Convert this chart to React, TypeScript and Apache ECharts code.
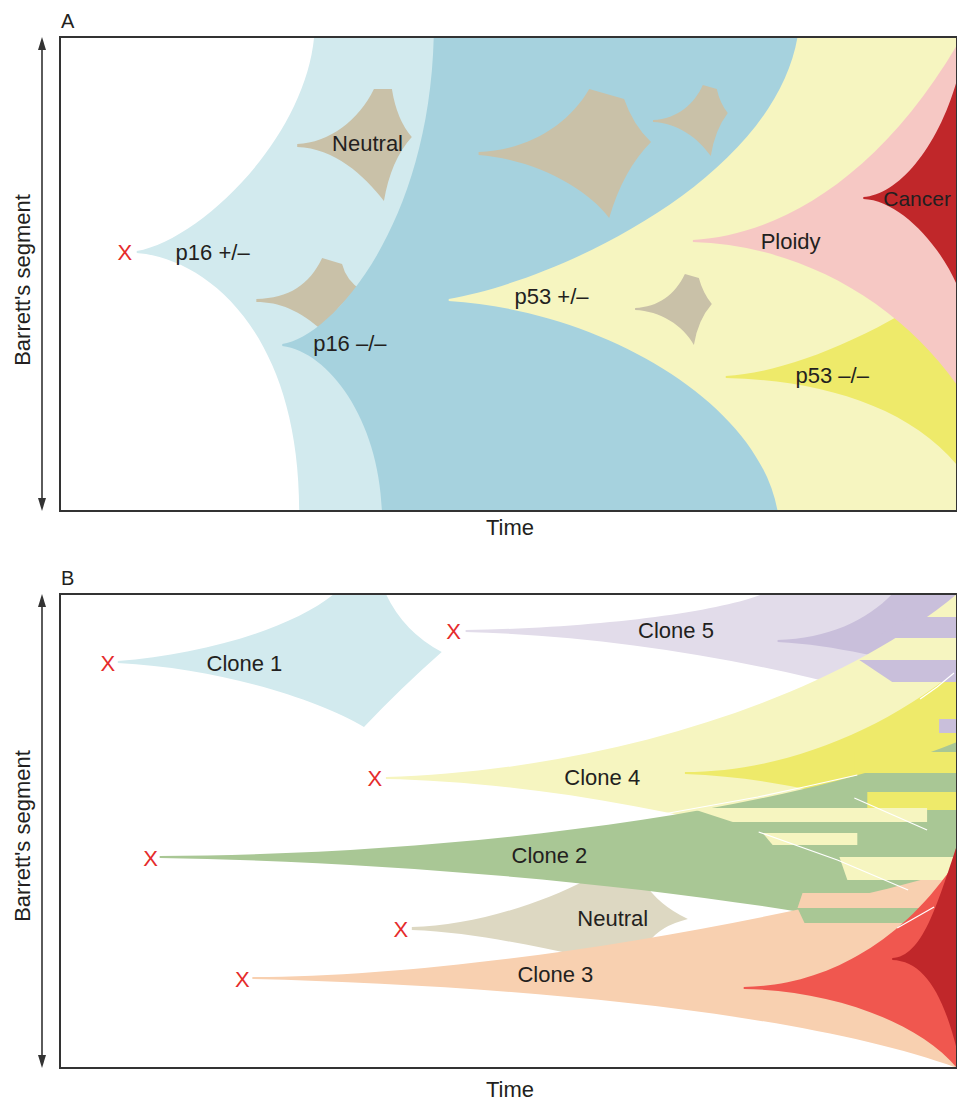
import { useEffect, useRef } from "react";
import * as echarts from "echarts";

const FONT = '"Liberation Sans", Arial, Helvetica, sans-serif';

// ---------------- colours ----------------
const C = {
  lightBlue: "#d2eaee",
  darkBlue: "#a6d2de",
  tanA: "#c9c1a8",
  paleYellow: "#f6f5c0",
  brightYellow: "#eeea6a",
  pink: "#f6c8c4",
  darkRed: "#c0272a",
  lavLight: "#e2dcea",
  lavDark: "#c9bfdb",
  green: "#a9c795",
  tanB: "#ddd8c2",
  peach: "#f8d0b0",
  red: "#f0574f",
  xRed: "#e52b2b",
  text: "#231f20",
  frame: "#333333",
};

// ---------------- Panel A: clone outlines (x = time, y = position in segment) ----------------
const aP16Het = [["M", 137, 251], ["C", 200, 240, 305, 140, 315, 37], ["L", 960, 37], ["L", 960, 511], ["L", 300, 511], ["C", 300, 330, 205, 258, 137, 253], ["Z"]];
const aNeutral1 = [["M", 298, 144], ["C", 330, 143, 360, 120, 375, 89], ["L", 393, 89], ["Q", 398, 120, 413, 137], ["Q", 392, 160, 385, 201], ["C", 365, 175, 335, 148, 298, 147], ["Z"]];
const aNeutral2 = [["M", 257, 299], ["C", 290, 298, 310, 285, 323, 258], ["L", 343, 264], ["Q", 347, 280, 362, 290], ["Q", 335, 305, 325, 332], ["C", 300, 310, 280, 302, 257, 302], ["Z"]];
const aP16Null = [["M", 283, 344], ["C", 330, 338, 430, 230, 435, 37], ["L", 960, 37], ["L", 960, 511], ["L", 383, 511], ["C", 380, 420, 330, 352, 283, 346], ["Z"]];
const aNeutral3 = [["M", 480, 152], ["C", 530, 150, 570, 125, 591, 89], ["L", 626, 99], ["Q", 635, 125, 653, 142], ["Q", 625, 170, 611, 218], ["C", 590, 190, 540, 160, 480, 155], ["Z"]];
const aNeutral4 = [["M", 655, 120], ["C", 680, 119, 697, 103, 705, 85], ["L", 719, 89], ["Q", 722, 103, 730, 113], ["Q", 717, 130, 713, 156], ["C", 700, 138, 680, 123, 655, 122], ["Z"]];
const aP53Het = [["M", 450, 299], ["C", 560, 280, 775, 180, 800, 37], ["L", 960, 37], ["L", 960, 511], ["L", 780, 511], ["C", 760, 400, 600, 310, 450, 301], ["Z"]];
const aNeutral5 = [["M", 637, 308], ["C", 660, 307, 677, 295, 687, 274], ["L", 701, 278], ["Q", 705, 293, 714, 304], ["Q", 700, 320, 696, 345], ["C", 685, 325, 662, 311, 637, 310], ["Z"]];
const aP53Null = [["M", 728, 376], ["C", 790, 372, 870, 340, 960, 280], ["L", 960, 465], ["C", 910, 405, 820, 380, 728, 378], ["Z"]];
const aPloidy = [["M", 695, 240], ["C", 780, 235, 880, 180, 960, 45], ["L", 960, 385], ["C", 900, 300, 800, 245, 695, 242], ["Z"]];
const aCancer = [["M", 866, 197], ["C", 900, 195, 940, 150, 960, 80], ["L", 960, 285], ["C", 940, 240, 900, 200, 866, 199], ["Z"]];

// [text, x, y, fontSize]
const aLabels = [
  ["p16 +/\u2013", 176, 252, 22],
  ["Neutral", 333, 143, 22],
  ["p16 \u2013/\u2013", 314, 343, 22],
  ["p53 +/\u2013", 516, 296, 22],
  ["Ploidy", 763, 241, 22],
  ["p53 \u2013/\u2013", 798, 375, 22],
  ["Cancer", 886, 198, 21],
];
const aMarks = [[125, 252]];

// ---------------- Panel B ----------------
const bClone1 = [["M", 118, 661], ["C", 200, 655, 290, 630, 335, 594], ["L", 387, 594], ["Q", 405, 632, 443, 652], ["Q", 402, 688, 365, 727], ["C", 320, 700, 220, 668, 118, 663], ["Z"]];
const bClone5 = [["M", 467, 630], ["C", 600, 628, 720, 612, 765, 594], ["L", 960, 594], ["L", 960, 720], ["C", 800, 665, 620, 636, 467, 632], ["Z"]];
const bClone5Sub = [["M", 780, 640], ["C", 830, 639, 870, 620, 895, 594], ["L", 960, 594], ["L", 960, 672], ["C", 890, 660, 840, 645, 780, 642], ["Z"]];
const bClone4 = [["M", 387, 777], ["C", 580, 772, 820, 710, 960, 594], ["L", 960, 910], ["C", 800, 825, 550, 782, 387, 779], ["Z"]];
const bClone4Sub = [["M", 687, 772], ["C", 780, 772, 880, 735, 960, 670], ["L", 960, 845], ["C", 900, 810, 800, 778, 687, 774], ["Z"]];
const bNeutral = [["M", 413, 927], ["C", 470, 926, 540, 905, 588, 880], ["L", 645, 881], ["Q", 660, 905, 690, 919], ["Q", 662, 926, 651, 942], ["L", 578, 955], ["C", 530, 945, 470, 932, 413, 930], ["Z"]];
const bClone2 = [["M", 160, 856], ["C", 450, 855, 780, 815, 960, 742], ["L", 960, 945], ["C", 800, 900, 450, 862, 160, 858], ["Z"]];
const bClone3 = [["M", 253, 977], ["C", 450, 977, 750, 930, 960, 870], ["L", 960, 1068], ["C", 800, 1010, 500, 985, 253, 979], ["Z"]];
const bRed = [["M", 746, 987], ["C", 820, 986, 900, 950, 960, 860], ["L", 960, 1068], ["C", 920, 1020, 830, 990, 746, 989], ["Z"]];
const bDarkRed = [["M", 895, 958], ["C", 925, 957, 940, 905, 960, 845], ["L", 960, 1050], ["C", 945, 990, 925, 961, 895, 960], ["Z"]];

// stripes where clones overlap: [yTop, yBottom, xLeftTop, xLeftBottom, xRight]
const lavStripes = [[617, 638, 911, 878, 960], [660, 682, 862, 895, 960], [719, 733, 942, 942, 960]];
const brightStripes = [[752, 773, 857, 857, 960], [792, 810, 870, 870, 960]];
const paleStripes = [[808, 822, 692, 735, 930], [833, 845, 765, 775, 860], [857, 880, 842, 850, 960]];
const peachStripes = [[893, 908, 805, 800, 945]];
const greenStripes = [[908, 923, 800, 807, 935]];

// thin white clone borders
const whiteLines = [
  [[660, 815], [760, 797], [811, 786], [860, 775]],
  [[923, 699], [940, 687], [957, 673]],
  [[761, 832], [840, 860], [911, 890]],
  [[857, 798], [930, 830]],
  [[900, 928], [937, 907]],
];

const bLabels = [
  ["Clone 1", 207, 663, 22],
  ["Clone 5", 640, 630, 22],
  ["Clone 4", 566, 777, 22],
  ["Clone 2", 513, 855, 22],
  ["Neutral", 579, 918, 22],
  ["Clone 3", 519, 974, 22],
];
const bMarks = [[108, 663], [455, 631], [376, 778], [151, 858], [402, 929], [243, 979]];

// ---------------- helpers ----------------
type Shape = { path: any[]; fill?: string; stroke?: string; lineWidth?: number };

function stripeShapes(list: number[][], fill: string): Shape[] {
  return list.map(([y0, y1, xl0, xl1, xr]) => ({
    path: [["M", xl0, y0], ["L", xr, y0], ["L", xr, y1], ["L", xl1, y1], ["Z"]],
    fill,
  }));
}

function lineShapes(list: number[][][]): Shape[] {
  return list.map((pts) => ({
    path: pts.map((p, i) => [i === 0 ? "M" : "L", p[0], p[1]]),
    fill: "none",
    stroke: "#ffffff",
    lineWidth: 1.2,
  }));
}

function shapeSeries(shapes: Shape[], gridIndex: number) {
  return {
    type: "custom",
    xAxisIndex: gridIndex,
    yAxisIndex: gridIndex,
    clip: true,
    silent: true,
    data: shapes.map((s) => [s.path[0][1], s.path[0][2]]),
    renderItem: (params: any, api: any) => {
      const s = shapes[params.dataIndex];
      let d = "";
      for (const cmd of s.path) {
        d += cmd[0];
        for (let i = 1; i < cmd.length; i += 2) {
          const p = api.coord([cmd[i], cmd[i + 1]]);
          d += " " + p[0].toFixed(2) + " " + p[1].toFixed(2);
        }
        d += " ";
      }
      return {
        type: "path",
        shape: { pathData: d },
        style: {
          fill: s.fill === "none" ? null : s.fill,
          stroke: s.stroke || null,
          lineWidth: s.lineWidth || 0,
        },
      };
    },
  };
}

function labelSeries(labels: any[], marks: number[][], gridIndex: number) {
  const items = [
    ...labels.map((l) => ({ text: l[0], x: l[1], y: l[2], size: l[3], color: C.text, align: "left" })),
    ...marks.map((m) => ({ text: "X", x: m[0], y: m[1], size: 22, color: C.xRed, align: "center" })),
  ];
  return {
    type: "custom",
    xAxisIndex: gridIndex,
    yAxisIndex: gridIndex,
    clip: false,
    silent: true,
    z: 20,
    data: items.map((it) => [it.x, it.y]),
    renderItem: (params: any, api: any) => {
      const it = items[params.dataIndex];
      const p = api.coord([it.x, it.y]);
      return {
        type: "text",
        x: p[0],
        y: p[1],
        style: {
          text: it.text,
          fill: it.color,
          font: `${it.size}px ${FONT}`,
          align: it.align,
          verticalAlign: "middle",
          textAlign: it.align,
          textVerticalAlign: "middle",
        },
      };
    },
  };
}

function arrow(x: number, y0: number, y1: number) {
  return [
    { type: "line", shape: { x1: x, y1: y0 + 10, x2: x, y2: y1 - 10 }, style: { stroke: C.frame, lineWidth: 1.6 } },
    { type: "polygon", shape: { points: [[x, y0], [x - 4, y0 + 13], [x + 4, y0 + 13]] }, style: { fill: C.frame } },
    { type: "polygon", shape: { points: [[x, y1], [x - 4, y1 - 13], [x + 4, y1 - 13]] }, style: { fill: C.frame } },
  ];
}

function txt(text: string, x: number, y: number, align: string, rotation = 0, size = 22) {
  return {
    type: "text",
    x,
    y,
    rotation,
    style: {
      text,
      fill: C.text,
      font: `${size}px ${FONT}`,
      align,
      verticalAlign: "middle",
      textAlign: align,
      textVerticalAlign: "middle",
    },
  };
}

export default function App() {
  const ref = useRef<HTMLDivElement>(null);
  useEffect(() => {
    document.body.style.margin = "0";
    const chart = echarts.init(ref.current!, null, { renderer: "svg" });

    const panelA: Shape[] = [
      { path: aP16Het, fill: C.lightBlue },
      { path: aNeutral1, fill: C.tanA },
      { path: aNeutral2, fill: C.tanA },
      { path: aP16Null, fill: C.darkBlue },
      { path: aNeutral3, fill: C.tanA },
      { path: aNeutral4, fill: C.tanA },
      { path: aP53Het, fill: C.paleYellow },
      { path: aNeutral5, fill: C.tanA },
      { path: aP53Null, fill: C.brightYellow },
      { path: aPloidy, fill: C.pink },
      { path: aCancer, fill: C.darkRed },
    ];
    const panelB: Shape[] = [
      { path: bClone1, fill: C.lightBlue },
      { path: bClone5, fill: C.lavLight },
      { path: bClone5Sub, fill: C.lavDark },
      { path: bClone4, fill: C.paleYellow },
      { path: bClone4Sub, fill: C.brightYellow },
      { path: bNeutral, fill: C.tanB },
      { path: bClone2, fill: C.green },
      { path: bClone3, fill: C.peach },
      ...stripeShapes(lavStripes, C.lavDark),
      ...stripeShapes(brightStripes, C.brightYellow),
      ...stripeShapes(paleStripes, C.paleYellow),
      ...stripeShapes(peachStripes, C.peach),
      ...stripeShapes(greenStripes, C.green),
      { path: bRed, fill: C.red },
      { path: bDarkRed, fill: C.darkRed },
      ...lineShapes(whiteLines),
    ];

    const gridBase = {
      left: 60,
      width: 900,
      height: 474,
      show: true,
      borderColor: C.frame,
      borderWidth: 2,
      backgroundColor: "transparent",
      z: 10,
    };
    const hiddenAxis = {
      type: "value",
      axisLine: { show: false },
      axisTick: { show: false },
      axisLabel: { show: false },
      splitLine: { show: false },
    };

    chart.setOption({
      animation: false,
      grid: [
        { ...gridBase, top: 37 },
        { ...gridBase, top: 594 },
      ],
      xAxis: [
        { ...hiddenAxis, gridIndex: 0, min: 60, max: 960 },
        { ...hiddenAxis, gridIndex: 1, min: 60, max: 960 },
      ],
      yAxis: [
        { ...hiddenAxis, gridIndex: 0, min: 37, max: 511, inverse: true },
        { ...hiddenAxis, gridIndex: 1, min: 594, max: 1068, inverse: true },
      ],
      series: [
        shapeSeries(panelA, 0),
        labelSeries(aLabels, aMarks, 0),
        shapeSeries(panelB, 1),
        labelSeries(bLabels, bMarks, 1),
      ],
      graphic: [
        txt("A", 61, 21, "left", 0, 20),
        txt("B", 61, 578, "left", 0, 20),
        txt("Barrett's segment", 22, 280, "center", Math.PI / 2),
        txt("Barrett's segment", 22, 836, "center", Math.PI / 2),
        txt("Time", 510, 527, "center"),
        txt("Time", 510, 1089, "center"),
        ...arrow(42, 37, 511),
        ...arrow(42, 594, 1068),
      ],
    });
    return () => chart.dispose();
  }, []);
  return <div ref={ref} style={{ position: "absolute", left: 0, top: 0, width: 957, height: 1100 }} />;
}
